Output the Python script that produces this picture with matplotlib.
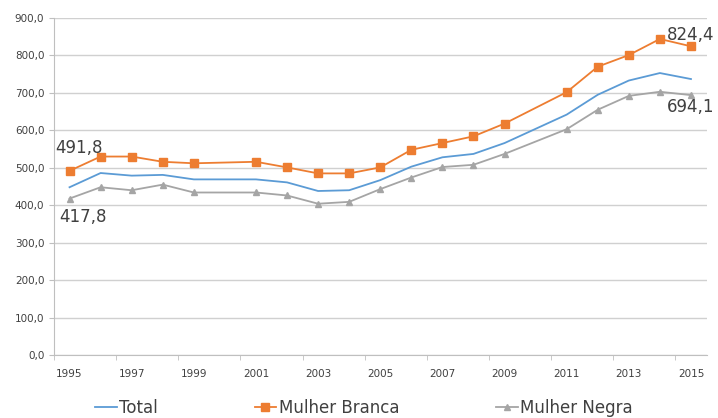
import matplotlib
matplotlib.use('Agg')
import matplotlib.pyplot as plt

# dados (2000 e 2010 sem pesquisa)
anos = [1995, 1996, 1997, 1998, 1999,
        2001, 2002, 2003, 2004, 2005, 2006, 2007, 2008, 2009,
        2011, 2012, 2013, 2014, 2015]
total = [448, 486, 479, 481, 469,
         469, 461, 438, 440, 467, 503, 528, 537, 566,
         642, 695, 733, 753, 737]
mulher_branca = [491.8, 530, 530, 516, 512,
                 516, 501, 485, 485, 501, 548, 566, 584, 618,
                 702, 770, 801, 844, 824.4]
mulher_negra = [417.8, 448, 440, 455, 434,
                434, 426, 404, 409, 443, 474, 502, 508, 537,
                603, 655, 692, 703, 694.1]
rotulos_x = list(range(1995, 2016, 2))


def fmt(v):
    return f"{v:.1f}".replace('.', ',')


fig = plt.figure(figsize=(7.18, 4.18), dpi=100)
ax = fig.add_axes([54 / 718, 1 - 355 / 418, (706.5 - 54) / 718, (355 - 18) / 418])

ax.plot(anos, total, color='#5B9BD5', lw=1.3, label='Total')
ax.plot(anos, mulher_branca, color='#ED7D31', lw=1.3, marker='s', ms=5.5, label='Mulher Branca')
ax.plot(anos, mulher_negra, color='#A5A5A5', lw=1.3, marker='^', ms=5, label='Mulher Negra')

# rótulos de dados nas pontas
txt = dict(fontsize=12, color='#404040', textcoords='offset points', ha='center', va='center')
ax.annotate(fmt(mulher_branca[0]), (anos[0], mulher_branca[0]), xytext=(7, 16.5), **txt)
ax.annotate(fmt(mulher_negra[0]), (anos[0], mulher_negra[0]), xytext=(10, -13), **txt)
ax.annotate(fmt(mulher_branca[-1]), (anos[-1], mulher_branca[-1]), xytext=(0, 8.5), **txt)
ax.annotate(fmt(mulher_negra[-1]), (anos[-1], mulher_negra[-1]), xytext=(0, -8.5), **txt)

ax.set_xlim(1994.5, 2015.5)
ax.set_ylim(0, 900)
ax.set_yticks(range(0, 901, 100))
ax.set_yticklabels([fmt(v) for v in range(0, 901, 100)])
ax.set_xticks(rotulos_x)
ax.set_xticklabels([str(a) for a in rotulos_x])
ax.set_xticks([a + 0.5 for a in range(1994, 2015, 2)], minor=True)

ax.tick_params(axis='x', which='major', length=0, pad=10, labelsize=7.5, colors='#404040')
ax.tick_params(axis='x', which='minor', length=3.5, color='#bfbfbf')
ax.tick_params(axis='y', length=3.5, pad=3.5, labelsize=7.5, colors='#404040', color='#bfbfbf')

ax.grid(axis='y', color='#d0d0d0', lw=1)
ax.set_axisbelow(True)
for s in ['top', 'right']:
    ax.spines[s].set_visible(False)
for s in ['left', 'bottom']:
    ax.spines[s].set_color('#bfbfbf')

fig.legend(loc='center left', bbox_to_anchor=(95 / 718, 1 - 408 / 418), ncol=3, frameon=False,
           fontsize=12, borderpad=0, borderaxespad=0, handlelength=1.3, handletextpad=0.15,
           columnspacing=5.8, labelcolor='#404040')

plt.savefig('out.png', dpi=100)
